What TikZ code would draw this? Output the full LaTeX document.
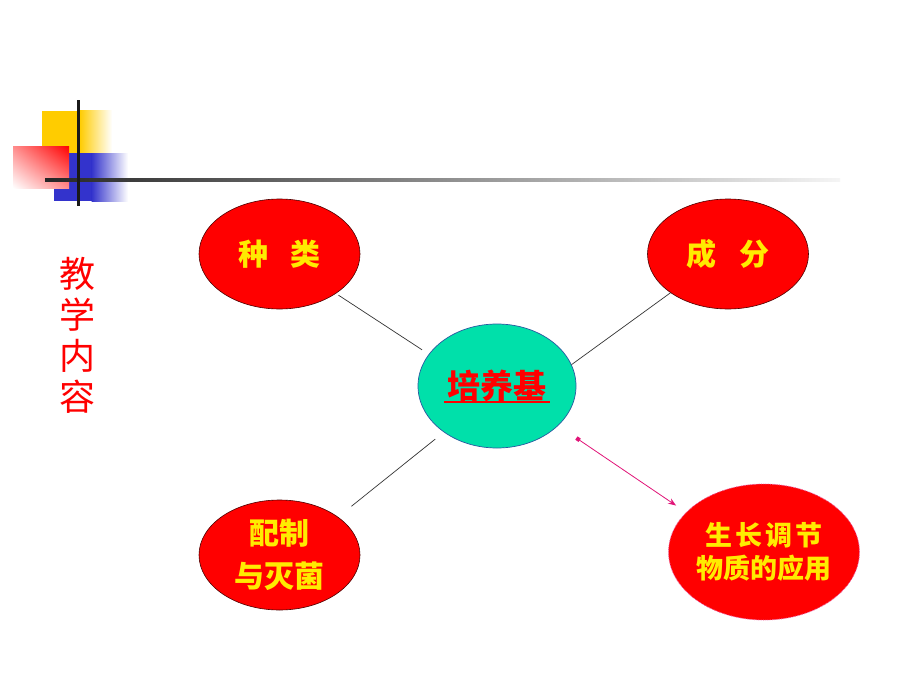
\documentclass[tikz,border=0pt]{standalone}
\usepackage{fontspec}
\newfontfamily\cjk{Noto Sans CJK SC}
\usetikzlibrary{arrows.meta,shapes.geometric,shadings}
\definecolor{myyellow}{RGB}{255,204,0}
\definecolor{myblue}{RGB}{51,51,204}
\definecolor{txtyellow}{RGB}{255,235,0}
\definecolor{myteal}{RGB}{0,224,170}
\definecolor{tealborder}{RGB}{40,90,160}
\definecolor{arrowpink}{RGB}{225,20,120}
\tikzset{
  redell/.style={ellipse, fill=red, draw=black!70!red, line width=0.6pt, minimum width=161pt, minimum height=110pt, inner sep=0pt, font=\cjk\fontsize{30}{43}\selectfont\bfseries, text=txtyellow, align=center},
  conn/.style={draw=black!80, line width=0.7pt},
}
\begin{document}
\begin{tikzpicture}[x=1pt,y=-1pt]
\useasboundingbox (0,0) rectangle (920,690);
\fill[white] (0,0) rectangle (920,690);
% decoration
\fill[myyellow] (42,111) rectangle (80,153);
\shade[left color=myyellow, right color=white] (79.5,111) rectangle (112,153);
\fill[myblue] (54,153) rectangle (92,201);
\shade[left color=myblue, right color=white] (91.5,153) rectangle (128,201);
\shade[upper right=red, upper left=red!45, lower right=red!45, lower left=white] (13,146) rectangle (69,188);
\shade[left color=black!85, right color=black!4] (45,178.5) rectangle (840,181.5);
\fill[black!90] (76.5,100) rectangle (79.5,206);
% side title
\node[font=\cjk\fontsize{36}{41}\selectfont, text=red, align=center, inner sep=0pt] (title) at (77,335) {教\\学\\内\\容};
% nodes
\node[ellipse, fill=myteal, draw=tealborder, line width=0.7pt, minimum width=158pt, minimum height=124pt, inner sep=0pt, font=\cjk\fontsize{33}{36}\selectfont\bfseries, text=red] (c) at (497,386) {培养基};
\draw[red, line width=2.2pt] (c.center) ++(-53,16) -- ++(106,0);
\node[redell] (zl) at (279.5,254) {种\hspace{0.75em}类};
\node[redell] (cf) at (728,254) {成\hspace{0.75em}分};
\node[redell] (pz) at (279.5,555) {配制\\与灭菌};
\node[ellipse, fill=red, draw=arrowpink!70, densely dotted, line width=0.8pt, minimum width=188pt, minimum height=136pt, inner sep=0pt, font=\cjk\fontsize{27}{33}\selectfont\bfseries, text=txtyellow, align=center] (sz) at (764,552) {生\hspace{3pt}长\hspace{3pt}调\hspace{3pt}节\\物质的应用};
% connectors
\draw[conn, shorten <=3pt, shorten >=8pt] (zl.-35) -- (c.155);
\draw[conn] (cf.214) -- (c.16);
\draw[conn, shorten <=17pt, shorten >=11pt] (pz.33) -- (c.221);
\draw[arrowpink, line width=0.8pt, {Square[length=4pt,width=4pt]}-{Stealth[length=8pt,width=6pt]}, shorten <=22pt, shorten >=12pt] (c.-33) -- (sz.153);
\end{tikzpicture}
\end{document}
